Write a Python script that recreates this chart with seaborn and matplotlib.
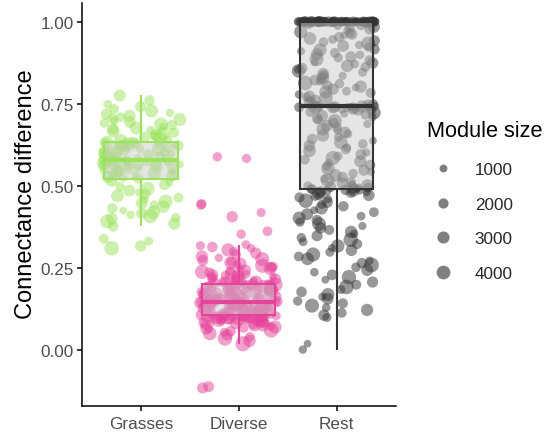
import numpy as np
import pandas as pd
import matplotlib
matplotlib.use("Agg")
import matplotlib.pyplot as plt
from matplotlib.lines import Line2D
import seaborn as sns

# ---- data -------------------------------------------------------------
groups = ["Grasses", "Diverse", "Rest"]
group_colors = ["#9CE35C", "#E6449B", "#333333"]

grasses_values = [
    0.309, 0.316, 0.331, 0.338, 0.376, 0.384, 0.391, 0.399, 0.402, 0.407,
    0.411, 0.416, 0.419, 0.424, 0.431, 0.436, 0.441, 0.447, 0.452, 0.458,
    0.463, 0.469, 0.474, 0.479, 0.485, 0.491, 0.497, 0.503, 0.509, 0.515,
    0.522, 0.525, 0.527, 0.530, 0.533, 0.535, 0.537, 0.540, 0.542, 0.545,
    0.547, 0.549, 0.551, 0.553, 0.556, 0.558, 0.560, 0.561, 0.563, 0.565,
    0.567, 0.568, 0.570, 0.571, 0.572, 0.574, 0.575, 0.576, 0.577, 0.578,
    0.580, 0.581, 0.584, 0.585, 0.588, 0.591, 0.592, 0.595, 0.597, 0.598,
    0.601, 0.603, 0.604, 0.607, 0.609, 0.611, 0.612, 0.615, 0.617, 0.618,
    0.621, 0.622, 0.624, 0.626, 0.627, 0.628, 0.630, 0.631, 0.632, 0.633,
    0.637, 0.641, 0.645, 0.648, 0.652, 0.655, 0.659, 0.662, 0.666, 0.669,
    0.673, 0.676, 0.680, 0.684, 0.687, 0.691, 0.694, 0.698, 0.702, 0.705,
    0.709, 0.713, 0.718, 0.722, 0.728, 0.734, 0.741, 0.748, 0.760, 0.775,
]
grasses_sizes = [
    4600, 2600, 1400, 1900, 2200, 3100, 4200, 2800, 1700, 4400,
    1200, 2500, 3600, 900, 2100, 3300, 1500, 2700, 4100, 1100,
    1900, 3500, 2300, 1300, 2900, 3800, 1600, 2400, 1000, 3000,
    2000, 1400, 3200, 2600, 900, 1800, 4000, 2200, 1200, 2800,
    1600, 3400, 2100, 1000, 2500, 3700, 1500, 1900, 2900, 1100,
    3100, 2300, 1700, 4300, 1300, 2000, 2700, 1400, 3500, 2200,
    1800, 2600, 1200, 3000, 2100, 1500, 3900, 2400, 900, 2800,
    1700, 3300, 2000, 1300, 2500, 3600, 1100, 1900, 2700, 1600,
    3100, 2300, 1000, 4400, 2000, 1400, 2900, 1800, 3400, 2200,
    3800, 1500, 4500, 2300, 1200, 2900, 4200, 1900, 3300, 1400,
    2600, 3600, 1100, 2200, 4000, 1700, 2800, 1300, 3500, 2000,
    1600, 3000, 2400, 1200, 3700, 1800, 2500, 1400, 2100, 3000,
]

diverse_values = [
    -0.117, -0.113, 0.018, 0.027, 0.034, 0.039, 0.045, 0.049, 0.053, 0.056,
    0.059, 0.062, 0.064, 0.067, 0.069, 0.071, 0.073, 0.075, 0.077, 0.078,
    0.080, 0.081, 0.083, 0.084, 0.085, 0.086, 0.088, 0.089, 0.090, 0.091,
    0.092, 0.093, 0.094, 0.094, 0.095, 0.096, 0.097, 0.097, 0.098, 0.099,
    0.099, 0.100, 0.100, 0.101, 0.101, 0.102, 0.102, 0.103, 0.103, 0.104,
    0.105, 0.106, 0.106, 0.108, 0.109, 0.110, 0.110, 0.112, 0.113, 0.113,
    0.115, 0.116, 0.117, 0.117, 0.119, 0.120, 0.121, 0.121, 0.123, 0.124,
    0.124, 0.126, 0.127, 0.127, 0.128, 0.129, 0.130, 0.131, 0.131, 0.132,
    0.133, 0.134, 0.135, 0.135, 0.136, 0.137, 0.138, 0.138, 0.139, 0.140,
    0.140, 0.141, 0.142, 0.142, 0.143, 0.143, 0.144, 0.144, 0.145, 0.145,
    0.147, 0.148, 0.149, 0.150, 0.151, 0.152, 0.153, 0.154, 0.156, 0.157,
    0.158, 0.159, 0.160, 0.161, 0.162, 0.164, 0.165, 0.166, 0.167, 0.168,
    0.169, 0.170, 0.172, 0.173, 0.174, 0.175, 0.176, 0.178, 0.179, 0.180,
    0.181, 0.182, 0.183, 0.185, 0.186, 0.187, 0.188, 0.189, 0.190, 0.191,
    0.192, 0.193, 0.194, 0.195, 0.196, 0.197, 0.198, 0.198, 0.199, 0.200,
    0.203, 0.205, 0.206, 0.208, 0.210, 0.211, 0.213, 0.215, 0.216, 0.218,
    0.220, 0.222, 0.224, 0.226, 0.228, 0.230, 0.232, 0.235, 0.237, 0.240,
    0.242, 0.245, 0.247, 0.250, 0.253, 0.256, 0.259, 0.262, 0.265, 0.268,
    0.272, 0.276, 0.280, 0.284, 0.289, 0.294, 0.299, 0.304, 0.309, 0.313,
    0.317, 0.320, 0.352, 0.361, 0.405, 0.418, 0.442, 0.444, 0.583, 0.588,
]
diverse_sizes = [
    2500, 2400, 5000, 3200, 4500, 1800, 2600, 3900, 1500, 2200,
    4700, 1200, 3000, 2000, 3600, 1400, 2800, 1700, 4200, 2300,
    1000, 3300, 1900, 2600, 1300, 3800, 2100, 1600, 2900, 4400,
    1100, 2400, 3500, 1800, 2700, 1300, 3100, 2000, 4000, 1500,
    2500, 3400, 1200, 2200, 3700, 1700, 2800, 1400, 3200, 2100,
    1900, 3000, 1300, 2600, 3800, 1600, 2200, 4100, 1100, 2900,
    1800, 3500, 2400, 1400, 3100, 2000, 1000, 2700, 4300, 1500,
    2300, 3600, 1200, 2800, 1900, 3300, 1700, 2500, 4000, 1300,
    2100, 3000, 1600, 3900, 2400, 1100, 2700, 1800, 3400, 2000,
    1400, 2900, 3700, 1200, 2200, 3200, 1700, 2600, 1500, 3500,
    2300, 1400, 3600, 2000, 2800, 1200, 4200, 1700, 2500, 3300,
    1500, 2100, 3900, 1300, 2700, 1900, 3100, 1100, 2400, 3800,
    1600, 2900, 2000, 1400, 3400, 2200, 1000, 3000, 1800, 4100,
    2600, 1300, 2300, 3500, 1700, 2800, 1500, 3200, 2100, 1200,
    3700, 1900, 2500, 1400, 3000, 2200, 4400, 1600, 2700, 1800,
    2800, 1500, 3500, 2100, 1200, 4600, 1900, 2600, 1400, 3300,
    2300, 1000, 3900, 1700, 2500, 1300, 3000, 2000, 4300, 1600,
    2700, 1100, 3600, 2200, 1800, 4400, 1400, 2900, 3400, 1500,
    2400, 4100, 1200, 3100, 1900, 2600, 1700, 3800, 1300, 2200,
    1500, 1400, 1600, 1800, 2700, 1500, 2000, 1800, 1500, 1600,
]

rest_values = [
    0.000, 0.018, 0.098, 0.105, 0.112, 0.121, 0.128, 0.134, 0.141, 0.148,
    0.155, 0.161, 0.168, 0.176, 0.183, 0.191, 0.198, 0.206, 0.213, 0.221,
    0.228, 0.236, 0.243, 0.251, 0.258, 0.264, 0.271, 0.277, 0.284, 0.290,
    0.297, 0.303, 0.310, 0.316, 0.322, 0.329, 0.335, 0.341, 0.347, 0.353,
    0.359, 0.365, 0.371, 0.377, 0.383, 0.389, 0.395, 0.401, 0.407, 0.413,
    0.419, 0.425, 0.431, 0.437, 0.443, 0.449, 0.454, 0.459, 0.464, 0.468,
    0.471, 0.474, 0.476, 0.478, 0.480, 0.482, 0.484, 0.485, 0.486, 0.487,
    0.489, 0.490, 0.491, 0.492, 0.494, 0.495, 0.497, 0.499, 0.501, 0.504,
    0.507, 0.511, 0.516, 0.521, 0.526, 0.531, 0.537, 0.542, 0.547, 0.553,
    0.558, 0.563, 0.569, 0.574, 0.579, 0.584, 0.590, 0.595, 0.601, 0.606,
    0.611, 0.616, 0.622, 0.627, 0.632, 0.637, 0.642, 0.648, 0.653, 0.658,
    0.663, 0.668, 0.673, 0.678, 0.683, 0.688, 0.692, 0.697, 0.701, 0.705,
    0.709, 0.713, 0.716, 0.719, 0.722, 0.725, 0.728, 0.731, 0.733, 0.735,
    0.736, 0.737, 0.738, 0.739, 0.739, 0.740, 0.740, 0.741, 0.741, 0.741,
    0.742, 0.746, 0.749, 0.754, 0.758, 0.761, 0.767, 0.770, 0.772, 0.778,
    0.783, 0.786, 0.788, 0.794, 0.799, 0.802, 0.805, 0.811, 0.813, 0.818,
    0.822, 0.826, 0.828, 0.835, 0.837, 0.841, 0.846, 0.850, 0.854, 0.858,
    0.862, 0.865, 0.871, 0.874, 0.876, 0.882, 0.886, 0.890, 0.893, 0.899,
    0.901, 0.905, 0.910, 0.914, 0.916, 0.922, 0.926, 0.929, 0.934, 0.938,
    0.942, 0.946, 0.949, 0.953, 0.958, 0.962, 0.965, 0.969, 0.974, 0.977,
    0.981, 0.984, 0.987, 0.990, 0.992, 0.994, 0.996, 0.998, 0.999,
    1.0, 1.0, 1.0, 1.0, 1.0, 1.0, 1.0, 1.0, 1.0, 1.0,
    1.0, 1.0, 1.0, 1.0, 1.0, 1.0, 1.0, 1.0, 1.0, 1.0,
    1.0, 1.0, 1.0, 1.0, 1.0, 1.0, 1.0, 1.0, 1.0, 1.0,
    1.0, 1.0, 1.0, 1.0, 1.0, 1.0, 1.0, 1.0, 1.0, 1.0,
    1.0, 1.0, 1.0, 1.0, 1.0, 1.0, 1.0, 1.0, 1.0, 1.0,
    1.0, 1.0, 1.0, 1.0, 1.0, 1.0, 1.0, 1.0, 1.0, 1.0,
    1.0, 1.0, 1.0, 1.0, 1.0, 1.0, 1.0, 1.0, 1.0, 1.0,
    1.0,
]
rest_sizes = [
    1200, 900, 1500, 2600, 1800, 3100, 1300, 4200, 2000, 1600,
    2800, 1100, 3500, 2200, 1400, 4600, 1900, 2500, 1000, 4400,
    2300, 1300, 3000, 1700, 4800, 2100, 1200, 3400, 1800, 4300,
    1500, 2700, 1000, 3800, 2000, 1400, 4500, 1700, 2400, 1200,
    3200, 1900, 2600, 1100, 4000, 1600, 2200, 3600, 1300, 2900,
    1800, 1000, 3300, 2100, 1500, 2500, 4500, 1200, 2000, 1700,
    2800, 1400, 3700, 1900, 1100, 2300, 1600, 3000, 1300, 2100,
    1400, 2000, 1100, 2600, 1700, 900, 2300, 1500, 3100, 1200,
    2800, 1900, 4100, 1300, 2200, 3500, 1600, 1000, 2500, 3800,
    1400, 2100, 1200, 3000, 1800, 4400, 1500, 2400, 1100, 3300,
    2000, 1300, 2700, 1700, 3900, 1000, 2200, 1600, 3200, 1400,
    2500, 1200, 3600, 1900, 2900, 1100, 2100, 4200, 1500, 2300,
    1300, 2800, 1800, 1000, 3400, 2000, 1600, 2600, 1200, 3100,
    1700, 2400, 1400, 3700, 1900, 1100, 2700, 1500, 2200, 3000,
    1300, 2500, 1800, 3300, 1100, 2200, 4000, 1500, 2800, 1200,
    1900, 3600, 1400, 2600, 1000, 3100, 2100, 1700, 4500, 1300,
    2400, 1600, 3400, 1100, 2000, 2900, 1500, 3800, 1200, 2300,
    1800, 3200, 1400, 2700, 1000, 2100, 4200, 1600, 2500, 1300,
    3000, 1900, 1100, 3500, 2200, 1500, 2800, 1200, 4100, 1700,
    2400, 1400, 3300, 2000, 1000, 2600, 1800, 3700, 1300, 2300,
    1600, 2900, 1100, 2100, 1500, 1900, 1300, 1700, 1200,
    1500, 1200, 2100, 1000, 1800, 1400, 2500, 1100, 1700, 1300,
    2200, 900, 1600, 2000, 1200, 1500, 2400, 1000, 1800, 1300,
    1900, 1100, 1600, 2300, 1200, 1400, 2000, 900, 1700, 1500,
    2600, 1100, 1300, 1800, 1000, 2100, 1400, 1600, 1200, 1900,
    2200, 1000, 1500, 1300, 1700, 2000, 1100, 1400, 2400, 1200,
    1600, 1800, 900, 1500, 2100, 1300, 1000, 1700, 1400, 2300,
    1200, 1900, 1100, 1600, 2000, 1300, 1500, 1000, 1800, 1400,
    1200,
]

legend_sizes = [1000, 2000, 3000, 4000]

# ---- assemble long table with horizontal jitter -----------------------
rng = np.random.default_rng(11)
frames = []
for i, (g, vals, szs) in enumerate(zip(groups,
                                       [grasses_values, diverse_values, rest_values],
                                       [grasses_sizes, diverse_sizes, rest_sizes])):
    frames.append(pd.DataFrame({
        "group": g,
        "value": vals,
        "module_size": szs,
        "xpos": i + rng.uniform(-0.4, 0.4, len(vals)),
    }))
df = pd.concat(frames, ignore_index=True)

# ---- style ------------------------------------------------------------
sns.set_theme(style="ticks")
plt.rcParams["font.family"] = ["Liberation Sans", "DejaVu Sans"]

W, H = 548, 435
fig = plt.figure(figsize=(W / 100, H / 100), dpi=100)
ax = fig.add_axes([82 / W, 1 - 407 / H, (395.5 - 82) / W, (407 - 4) / H])


def marker_area(v):
    """Scatter marker area (pt^2) for a module size."""
    return 10.0 + 0.022 * v


SIZE_NORM = (0, 6000)

sns.scatterplot(
    data=df, x="xpos", y="value", hue="group", hue_order=groups,
    palette=group_colors, size="module_size",
    sizes=(marker_area(SIZE_NORM[0]), marker_area(SIZE_NORM[1])),
    size_norm=SIZE_NORM, alpha=0.5, linewidth=0, legend=False,
    ax=ax, zorder=1,
)

sns.boxplot(
    data=df, x="group", y="value", order=groups, hue="group",
    hue_order=groups, palette=group_colors, width=0.75, whis=1.5,
    showfliers=False, showcaps=False, linewidth=1.5,
    medianprops=dict(linewidth=3), legend=False, ax=ax,
)

# translucent grey boxes with coloured outlines, above the points
for patch in ax.patches:
    cx = patch.get_path().vertices[:, 0].mean()
    k = int(round(cx))
    patch.set_facecolor((0.8, 0.8, 0.8, 0.5))
    patch.set_edgecolor(group_colors[k])
    patch.set_linewidth(1.5)
    patch.set_zorder(3)
for line in ax.lines:
    xd = np.asarray(line.get_xdata(), dtype=float)
    if xd.size == 0:
        continue
    k = int(round(xd.mean()))
    line.set_color(group_colors[k])
    line.set_zorder(3.1)

# ---- axes -------------------------------------------------------------
ax.set_xlim(-0.6, 2.6)
ax.set_ylim(-0.172, 1.057)
ax.set_xticks([0, 1, 2], groups)
yt = [0.0, 0.25, 0.5, 0.75, 1.0]
ax.set_yticks(yt, [f"{v:.2f}" for v in yt])
ax.set_xlabel("")
ax.set_ylabel("Connectance difference", fontsize=17, color="black")
ax.yaxis.set_label_coords((37 - 82) / 313.5, (407 - 194.5) / 403)
for s in ["top", "right"]:
    ax.spines[s].set_visible(False)
for s in ["left", "bottom"]:
    ax.spines[s].set_linewidth(1.1)
    ax.spines[s].set_color("black")
ax.tick_params(axis="both", length=3.5, width=1.1, color="black",
               labelcolor="#4D4D4D", labelsize=12.3, pad=2.5)
ax.tick_params(axis="x", pad=4)
ax.set_facecolor("white")

# ---- size legend ------------------------------------------------------
fig.text(427 / W, 1 - 132 / H, "Module size", fontsize=15.7,
         ha="left", va="center", color="black")
handles = [
    Line2D([], [], linestyle="none", marker="o",
           markersize=np.sqrt(marker_area(v)), markerfacecolor="black",
           markeredgewidth=0, alpha=0.5)
    for v in legend_sizes
]
fig.legend(
    handles, [str(v) for v in legend_sizes],
    loc="upper left", bbox_to_anchor=(427 / W, 1 - 163 / H),
    frameon=False, fontsize=12.3, handlelength=1.9,
    handletextpad=0.9, labelspacing=1.15, borderpad=0, borderaxespad=0,
)

fig.savefig("out.png", dpi=100)
